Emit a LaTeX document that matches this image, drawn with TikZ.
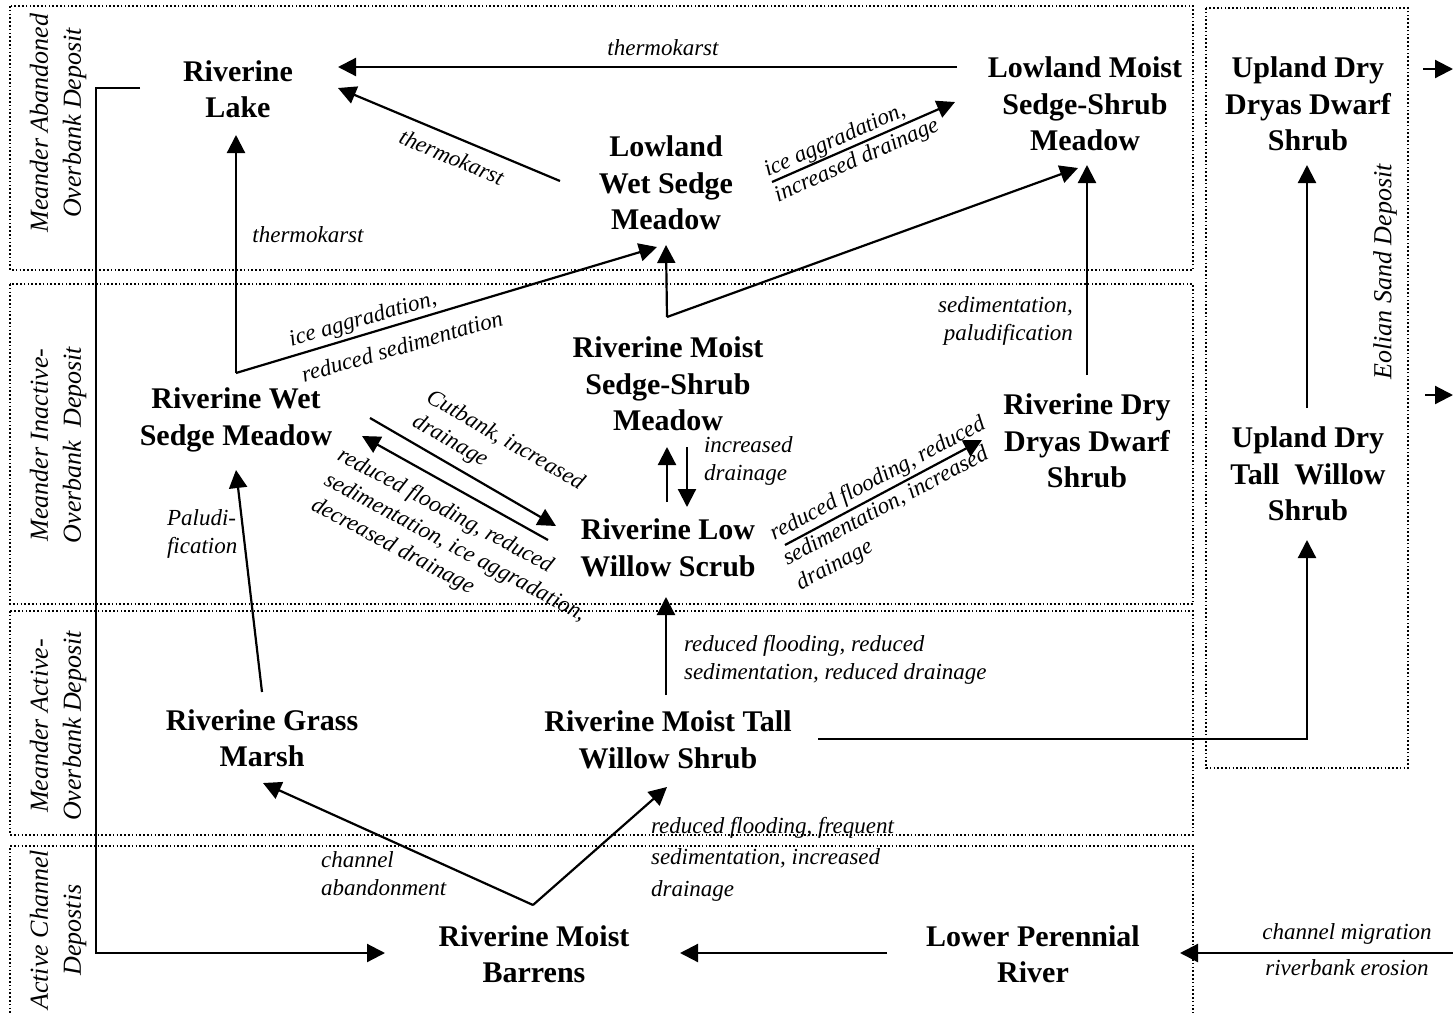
\documentclass[tikz,border=0pt]{standalone}
\usepackage{fontspec}
\setmainfont{Liberation Serif}
\usetikzlibrary{arrows.meta}
\usetikzlibrary{calc}

\begin{document}
\begin{tikzpicture}[x=0.5pt,y=-0.5pt,
        arr/.style={line width=1.1pt,-{Triangle[length=9pt,width=9pt]}},
        link/.style={line width=1.1pt},
        zone/.style={line width=0.8pt,dash pattern=on 0.8pt off 1.1pt},
        veg/.style={font=\bfseries\fontsize{15}{18.25}\selectfont,align=center},
        proc/.style={font=\itshape\fontsize{11.5}{14}\selectfont,align=left},
        band/.style={font=\itshape\fontsize{13}{16.5}\selectfont,align=center,rotate=90}]
                \useasboundingbox (0,0) rectangle (1453,1013);

                \draw[zone] (10,6) rectangle (1193,270);
                \draw[zone] (10,284) rectangle (1193,604);
                \draw[zone] (10,611) rectangle (1193,835);
                \draw[zone] (10,1013) -- (10,846) -- (1193,846) -- (1193,1013);
                \draw[zone] (1206,8) rectangle (1408,768);

                \node[band] (abandoned) at(58,123) {Meander Abandoned\\Overbank Deposit};
                \node[band] (inactive) at(58,445) {Meander Inactive-\\Overbank~ Deposit};
                \node[band] (active) at(58,726) {Meander Active-\\Overbank Deposit};
                \node[band] (channel) at(58,930) {Active Channel\\Depostis};
                \node[band] (eolian) at(1385,272) {Eolian Sand Deposit};

                \node[veg] (lake) at(238,89) {Riverine\\Lake};
                \node[veg] (lwsm) at(666,183) {Lowland\\Wet Sedge\\Meadow};
                \node[veg] (lmssm) at(1085,104) {Lowland Moist\\Sedge-Shrub\\Meadow};
                \node[veg] (udds) at(1308,104) {Upland Dry\\Dryas Dwarf\\Shrub};
                \node[veg] (rwsm) at(236,420) {Riverine Wet\\Sedge Meadow};
                \node[veg] (rmssm) at(668,384) {Riverine Moist\\Sedge-Shrub\\Meadow};
                \node[veg] (rlws) at(668,548) {Riverine Low\\Willow Scrub};
                \node[veg] (rddds) at(1087,441) {Riverine Dry\\Dryas Dwarf\\Shrub};
                \node[veg] (udtws) at(1308,474) {Upland Dry\\Tall~ Willow\\Shrub};
                \node[veg] (rgm) at(262,738) {Riverine Grass\\Marsh};
                \node[veg] (rmtws) at(668,740) {Riverine Moist Tall\\Willow Shrub};
                \node[veg] (rmb) at(534,954) {Riverine Moist\\Barrens};
                \node[veg] (lpr) at(1033,954) {Lower Perennial\\River};

                \coordinate (wsfork) at ([shift={(0,-47)}]rwsm.center);
                \coordinate (msfork) at ([shift={(-1,-67)}]rmssm.center);
                \coordinate (mbfork) at ([shift={(-1,-49)}]rmb.center);
                \coordinate (inriver) at (1453,953);
                \coordinate (outdry) at (1453,69);
                \coordinate (outtall) at (1453,395);

                \draw[arr] ([shift={(-128,-37)}]lmssm.center) -- ([shift={(100,-22)}]lake.center);
                \draw[arr] ([shift={(-106,-2)}]lwsm.center) -- ([shift={(100,-1)}]lake.center);
                \draw[arr] (wsfork) -- ([shift={(-2,46)}]lake.center);
                \draw[arr] (wsfork) -- ([shift={(-9,64)}]lwsm.center);
                \draw[arr] (msfork) -- ([shift={(0,62)}]lwsm.center);
                \draw[arr] (msfork) -- ([shift={(-7,64)}]lmssm.center);
                \draw[arr] ([shift={(106,-1)}]lwsm.center) -- ([shift={(-130,-2)}]lmssm.center);
                \draw[arr] ([shift={(0,-66)}]rddds.center) -- ([shift={(2,61)}]lmssm.center);
                \draw[arr] ([shift={(-1,-66)}]udtws.center) -- ([shift={(-1,61)}]udds.center);
                \draw[arr] ([shift={(150,-1)}]rmtws.center) -| ([shift={(-1,66)}]udtws.center);
                \draw[arr] ([shift={(-2,-45)}]rmtws.center) -- ([shift={(-2,49)}]rlws.center);
                \draw[arr] ([shift={(-1,-46)}]rlws.center) -- ([shift={(-1,63)}]rmssm.center);
                \draw[arr] ([shift={(19,63)}]rmssm.center) -- ([shift={(19,-41)}]rlws.center);
                \draw[arr] ([shift={(134,-2)}]rwsm.center) -- ([shift={(-112,-22)}]rlws.center);
                \draw[arr] ([shift={(-120,-8)}]rlws.center) -- ([shift={(126,16)}]rwsm.center);
                \draw[arr] ([shift={(117,-3)}]rlws.center) -- ([shift={(-105,-1)}]rddds.center);
                \draw[arr] ([shift={(0,-46)}]rgm.center) -- ([shift={(0,50)}]rwsm.center);
                \draw[arr] (mbfork) -- ([shift={(1,45)}]rgm.center);
                \draw[arr] (mbfork) -- ([shift={(-1,47)}]rmtws.center);
                \draw[arr] ([shift={(-146,-1)}]lpr.center) -- ([shift={(146,-1)}]rmb.center);
                \draw[arr] (inriver) -- ([shift={(147,-1)}]lpr.center);
                \draw[arr] ([shift={(-98,-1)}]lake.center) -- ++(-44,0) |- ([shift={(-149,-1)}]rmb.center);
                \draw[arr] ([shift={(115,-35)}]udds.center) -- (outdry);
                \draw[arr] ([shift={(117,-79)}]udtws.center) -- (outtall);

                \node[proc] (tk1) at(663,48) {thermokarst};
                \node[proc,rotate=-23] (tk2) at(452,157) {thermokarst};
                \node[proc] (tk3) at(308,235) {thermokarst};
                \node[proc,rotate=16] (ia1) at(363,320) {ice aggradation,};
                \node[proc,rotate=16] (rs1) at(402,346) {reduced sedimentation};
                \node[proc,rotate=24] (ia2) at(835,141) {ice aggradation,};
                \node[proc,rotate=24] (id2) at(857,161) {increased drainage};
                \node[proc,align=right,anchor=east] (sp) at(1080,321) {sedimentation,\\paludification};
                \node[proc,rotate=-30] (cb) at(498,453) {Cutbank, increased\\drainage};
                \node[proc,rotate=-28] (rf1) at(455,548) {reduced flooding, reduced\\sedimentation, ice aggradation,\\decreased drainage};
                \node[proc,rotate=28] (rf2) at(891,504) {reduced flooding, reduced\\sedimentation, increased\\drainage};
                \node[proc,anchor=west] (id3) at(697,461) {increased\\drainage};
                \node[proc,anchor=west] (rf3) at(677,660) {reduced flooding, reduced\\sedimentation, reduced drainage};
                \node[proc,anchor=west] (pal) at(160,534) {Paludi-\\fication};
                \node[proc,anchor=west] (ca) at(314,874) {channel\\abandonment};
                \node[proc,anchor=west,font=\itshape\fontsize{11.5}{15.75}\selectfont] (rf4) at(644,859) {reduced flooding, frequent\\sedimentation, increased\\drainage};
                \node[proc] (cm) at(1347,934) {channel migration};
                \node[proc] (re) at(1347,968) {riverbank erosion};
\end{tikzpicture}
\end{document}
